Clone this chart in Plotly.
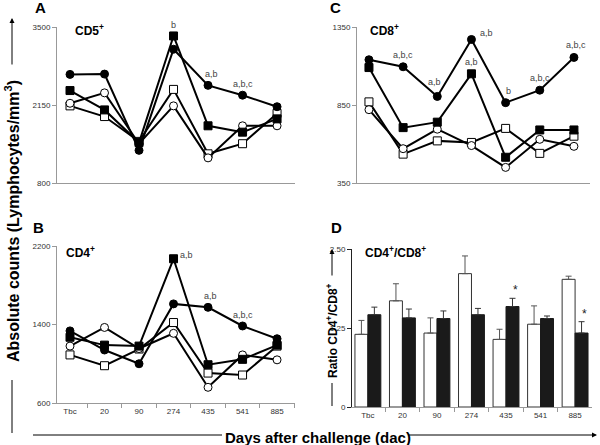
import plotly.graph_objects as go

# ---------------- data ----------------
categories = ["Tbc", "20", "90", "274", "435", "541", "885"]

# Panel A: CD5+
cd5_filled_circle = [2680, 2685, 1365, 3115, 2490, 2320, 2120]
cd5_filled_square = [2400, 2065, 1500, 3345, 1790, 1680, 1910]
cd5_open_circle = [2180, 2360, 1480, 2135, 1235, 1790, 1790]
cd5_open_square = [2135, 1950, 1520, 2420, 1305, 1480, 2005]

# Panel B: CD4+
cd4_filled_circle = [1335, 1140, 1000, 1610, 1575, 1385, 1255]
cd4_filled_square = [1270, 1190, 1180, 2070, 990, 1045, 1190]
cd4_open_circle = [1180, 1370, 1155, 1310, 760, 1090, 1040]
cd4_open_square = [1090, 980, 1150, 1420, 905, 885, 1180]

# Panel C: CD8+
cd8_filled_circle = [1140, 1095, 905, 1270, 865, 945, 1155]
cd8_filled_square = [1090, 705, 740, 1050, 515, 690, 690]
cd8_open_circle = [820, 570, 695, 590, 450, 630, 585]
cd8_open_square = [870, 535, 620, 610, 700, 540, 650]

# Panel D: CD4+/CD8+ ratio
ratio_white = [1.15, 1.68, 1.17, 2.11, 1.07, 1.31, 2.02]
ratio_white_err = [0.22, 0.27, 0.24, 0.28, 0.16, 0.29, 0.05]
ratio_black = [1.46, 1.41, 1.40, 1.46, 1.59, 1.40, 1.17]
ratio_black_err = [0.12, 0.14, 0.12, 0.10, 0.13, 0.04, 0.18]

# significance labels: (category, series key, text)
sig_A = [("274", "fs", "b"), ("435", "fc", "a,b"), ("541", "fc", "a,b,c")]
sig_B = [("274", "fs", "a,b"), ("435", "fc", "a,b"), ("541", "fc", "a,b,c")]
sig_C = [("20", "fc", "a,b,c"), ("90", "fc", "a,b"), ("274", "fc", "a,b"),
         ("274", "fs", "a,b"), ("435", "fc", "b"), ("541", "fc", "a,b,c"),
         ("885", "fc", "a,b,c")]
sig_D = [("435", "*"), ("885", "*")]

# ---------------- styling ----------------
W, H = 600, 445
FONT = "Liberation Sans, Arial, sans-serif"


def px(x):
    return x / W


def py(y):
    return 1 - y / H


styles = {
    "fc": dict(symbol="circle", size=8, color="black", line=dict(color="black", width=1)),
    "fs": dict(symbol="square", size=8, color="black", line=dict(color="black", width=1)),
    "oc": dict(symbol="circle", size=8, color="white", line=dict(color="black", width=1)),
    "os": dict(symbol="square", size=8, color="white", line=dict(color="black", width=1)),
}

panels = {
    "A": (("x", "y"), {"fc": cd5_filled_circle, "fs": cd5_filled_square,
                       "oc": cd5_open_circle, "os": cd5_open_square}, sig_A),
    "B": (("x2", "y2"), {"fc": cd4_filled_circle, "fs": cd4_filled_square,
                         "oc": cd4_open_circle, "os": cd4_open_square}, sig_B),
    "C": (("x3", "y3"), {"fc": cd8_filled_circle, "fs": cd8_filled_square,
                         "oc": cd8_open_circle, "os": cd8_open_square}, sig_C),
}

fig = go.Figure()
annotations = []

sig_offsets = {
    ("A", "274", "fs"): (0, 11), ("A", "435", "fc"): (3, 11), ("A", "541", "fc"): (0, 11),
    ("B", "274", "fs"): (13, 4), ("B", "435", "fc"): (2, 11), ("B", "541", "fc"): (0, 11),
    ("C", "20", "fc"): (0, 12), ("C", "90", "fc"): (-3, 14), ("C", "274", "fc"): (15, 6),
    ("C", "274", "fs"): (0, 12), ("C", "435", "fc"): (3, 12), ("C", "541", "fc"): (0, 12),
    ("C", "885", "fc"): (2, 12),
}

for name, ((xa, ya), series, sigs) in panels.items():
    for key in ["os", "oc", "fs", "fc"]:
        fig.add_trace(go.Scatter(
            x=categories, y=series[key], xaxis=xa, yaxis=ya, mode="lines+markers",
            line=dict(color="black", width=2), marker=styles[key],
            showlegend=False, cliponaxis=False))
    for cat, key, txt in sigs:
        i = categories.index(cat)
        dx, dy = sig_offsets[(name, cat, key)]
        annotations.append(dict(
            x=i, y=series[key][i], xref=xa, yref=ya, text=txt, showarrow=False,
            xanchor="center", yanchor="middle",
            xshift=dx, yshift=dy, font=dict(size=9, color="#444", family=FONT)))

# Panel D bars
fig.add_trace(go.Bar(
    x=categories, y=ratio_white, xaxis="x4", yaxis="y4", showlegend=False,
    marker=dict(color="white", line=dict(color="#333", width=1)),
    error_y=dict(type="data", array=ratio_white_err, arrayminus=[0] * 7,
                 symmetric=False, color="#555", thickness=1, width=3)))
fig.add_trace(go.Bar(
    x=categories, y=ratio_black, xaxis="x4", yaxis="y4", showlegend=False,
    marker=dict(color="#1a1a1a", line=dict(color="#1a1a1a", width=1)),
    error_y=dict(type="data", array=ratio_black_err, arrayminus=[0] * 7,
                 symmetric=False, color="#333", thickness=1, width=3)))

for cat, txt in sig_D:
    i = categories.index(cat)
    annotations.append(dict(
        x=i, y=ratio_black[i] + ratio_black_err[i], xref="x4", yref="y4", text=txt,
        showarrow=False, xanchor="center", yanchor="middle", xshift=9, yshift=8,
        font=dict(size=12, color="#222", family=FONT)))

tickfont = dict(size=8, color="#333", family=FONT)


def xaxis(dom, rng, labels):
    d = dict(domain=dom, range=rng, type="category", showline=True, linecolor="#999",
             linewidth=1, showgrid=False, zeroline=False, tickfont=tickfont,
             fixedrange=True)
    if labels:
        d.update(ticks="outside", tickson="boundaries", ticklen=4, tickcolor="#999",
                 showticklabels=True)
    else:
        d.update(ticks="", showticklabels=False)
    return d


def yaxis(dom, rng, tv, tt=None, color="#999"):
    d = dict(domain=dom, range=rng, tickvals=tv, showline=True, linecolor=color,
             linewidth=1, ticks="outside", ticklen=4, tickcolor=color, showgrid=False,
             zeroline=False, tickfont=tickfont, fixedrange=True)
    if tt:
        d["ticktext"] = tt
    return d


fig.update_layout(
    width=W, height=H, margin=dict(l=0, r=0, t=0, b=0, autoexpand=False),
    paper_bgcolor="white", plot_bgcolor="white",
    font=dict(family=FONT, color="black"),
    barmode="group", bargap=0.25, bargroupgap=0,
    xaxis=dict(xaxis([px(57), px(295)], [-0.377, 6.52], False), anchor="y"),
    yaxis=dict(yaxis([py(183), py(27)], [800, 3500], [800, 2150, 3500]), anchor="x"),
    xaxis2=dict(xaxis([px(57), px(295)], [-0.377, 6.52], True), anchor="y2"),
    yaxis2=dict(yaxis([py(403), py(246)], [600, 2200], [600, 1400, 2200]), anchor="x2"),
    xaxis3=dict(xaxis([px(357), px(590)], [-0.35, 6.47], False), anchor="y3"),
    yaxis3=dict(yaxis([py(183), py(27)], [350, 1350], [350, 850, 1350]), anchor="x3"),
    xaxis4=dict(xaxis([px(352), px(592)], [-0.46, 6.49], True), anchor="y4"),
    yaxis4=dict(yaxis([py(407), py(249)], [0, 2.5], [0, 1.25, 2.5], ["0", "1.25", "2.50"],
                      color="#222"), anchor="x4"),
)

# panel letters and inner titles
for txt, x, y in [("A", 40, 8), ("C", 335, 8), ("B", 38, 227), ("D", 336, 228)]:
    annotations.append(dict(x=px(x), y=py(y), xref="paper", yref="paper", text=f"<b>{txt}</b>",
                            xanchor="center", yanchor="middle",
                            showarrow=False, font=dict(size=15, family=FONT)))
for txt, x, y in [("CD5<sup>+</sup>", 73, 30), ("CD8<sup>+</sup>", 368, 30),
                  ("CD4<sup>+</sup>", 64, 252), ("CD4<sup>+</sup>/CD8<sup>+</sup>", 363, 252)]:
    annotations.append(dict(x=px(x), y=py(y), xref="paper", yref="paper", text=f"<b>{txt}</b>",
                            showarrow=False, xanchor="left", yanchor="middle",
                            font=dict(size=12, family=FONT)))

# outer axis titles
annotations.append(dict(x=px(12), y=py(221), xref="paper", yref="paper", textangle=-90,
                        xanchor="center", yanchor="middle",
                        text="<b>Absolute counts (Lymphocytes/mm<sup>3</sup>)</b>",
                        showarrow=False, font=dict(size=16, family=FONT)))
annotations.append(dict(x=px(318), y=py(437), xref="paper", yref="paper",
                        xanchor="center", yanchor="middle",
                        text="<b>Days after challenge (dac)</b>",
                        showarrow=False, font=dict(size=15, family=FONT)))
annotations.append(dict(x=px(332), y=py(331), xref="paper", yref="paper", textangle=-90,
                        xanchor="center", yanchor="middle",
                        text="<b>Ratio CD4<sup>+</sup>/CD8<sup>+</sup></b>",
                        showarrow=False, font=dict(size=12, family=FONT)))

# arrows
for (x, y_tip, length, horiz) in [(12, 18, 48, False), (332, 249, 28, False), (597, 435, 190, True)]:
    if horiz:
        annotations.append(dict(x=px(x), y=py(y_tip), xref="paper", yref="paper", text="",
                                showarrow=True, ax=-length, ay=0, arrowhead=2, arrowsize=1,
                                arrowwidth=1, arrowcolor="black"))
    else:
        annotations.append(dict(x=px(x), y=py(y_tip), xref="paper", yref="paper", text="",
                                showarrow=True, ax=0, ay=length, arrowhead=2, arrowsize=1,
                                arrowwidth=1, arrowcolor="black"))

shapes = [
    dict(type="line", xref="paper", yref="paper", x0=px(12), x1=px(12), y0=py(380), y1=py(433),
         line=dict(color="black", width=1)),
    dict(type="line", xref="paper", yref="paper", x0=px(33), x1=px(222), y0=py(435), y1=py(435),
         line=dict(color="black", width=1)),
    dict(type="line", xref="paper", yref="paper", x0=px(332), x1=px(332), y0=py(383), y1=py(406),
         line=dict(color="black", width=1)),
]

fig.update_layout(annotations=annotations, shapes=shapes)
fig.write_html("out.html", config={"displayModeBar": False},
               post_script="document.body.style.margin='0';document.body.style.padding='0';"
                           "document.body.style.overflow='hidden';")
